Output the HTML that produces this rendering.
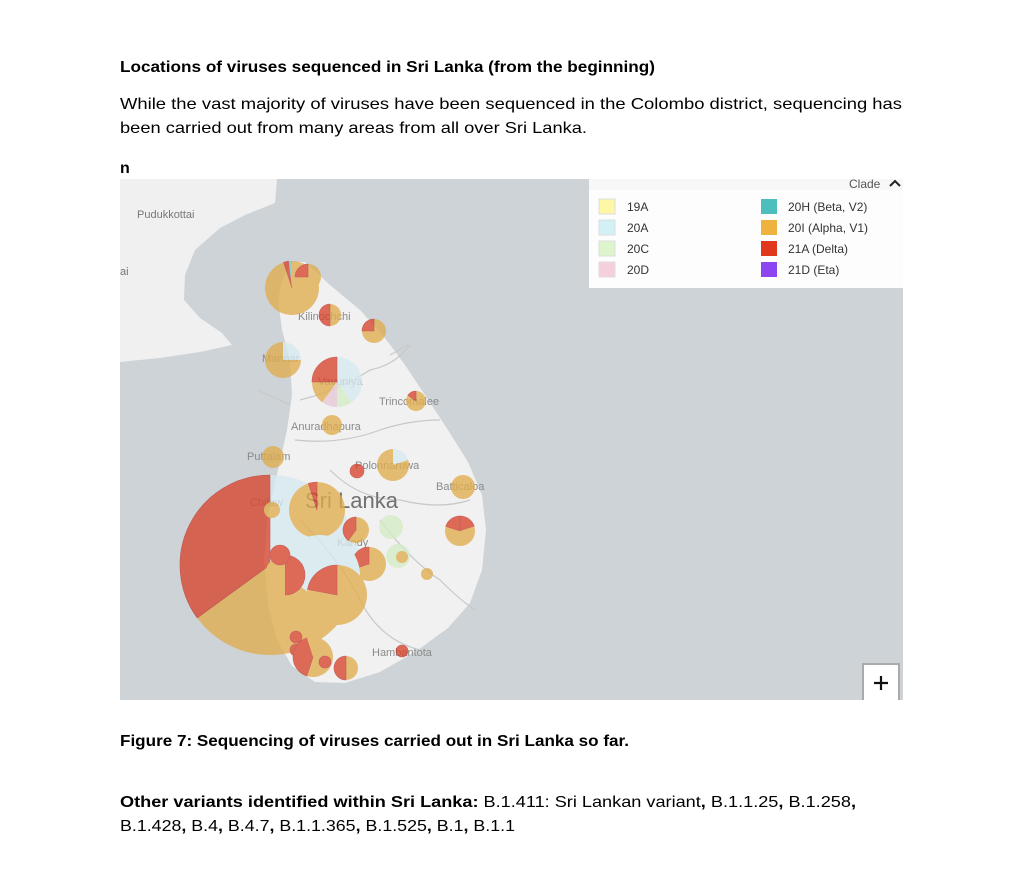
<!DOCTYPE html>
<html><head><meta charset="utf-8"><style>
html,body{margin:0;padding:0;background:#fff;}
svg{display:block;}
text{font-family:"Liberation Sans",sans-serif;}
</style></head><body>
<svg id="s" width="1024" height="882" viewBox="0 0 1024 882" xmlns="http://www.w3.org/2000/svg">
<rect width="1024" height="882" fill="#fff"/>
<text x="120" y="72" font-size="15.5" font-weight="bold" fill="#000" textLength="535" lengthAdjust="spacingAndGlyphs">Locations of viruses sequenced in Sri Lanka (from the beginning)</text>
<text x="120" y="109" font-size="16" fill="#000" textLength="782" lengthAdjust="spacingAndGlyphs">While the vast majority of viruses have been sequenced in the Colombo district, sequencing has</text>
<text x="120" y="133" font-size="16" fill="#000" textLength="467" lengthAdjust="spacingAndGlyphs">been carried out from many areas from all over Sri Lanka.</text>
<text x="120" y="173" font-size="16" font-weight="bold" fill="#000">n</text>
<clipPath id="mc"><rect x="120" y="179" width="783" height="521"/></clipPath>
<g clip-path="url(#mc)" id="map">
<rect x="120" y="179" width="783" height="521" fill="#cdd3d6"/>
<path d="M120 179 L277 179 L275 203 L245 215 L220 228 L195 250 L185 275 L184 300 L200 318 L222 333 L232 345 L200 352 L160 358 L120 362 Z" fill="#f0f0f0"/>
<path d="M292 262 L305 262 L330 285 L360 310 L385 338 L405 365 L425 395 L448 430 L468 462 L482 495 L486 530 L482 570 L470 603 L448 628 L415 652 L380 672 L345 683 L315 682 L292 666 L277 640 L268 605 L264 560 L268 515 L278 470 L287 430 L292 395 L290 360 L282 330 L278 300 L283 278 Z" fill="#f1f1f1"/>
<g stroke="#c8c8c8" stroke-width="1.2" fill="none">
<path d="M300 400 Q340 390 370 370 Q395 365 410 345"/>
<path d="M295 440 Q340 445 380 430 Q410 420 440 420"/>
<path d="M330 470 Q360 500 400 500 Q440 510 470 500"/>
<path d="M300 520 Q340 560 360 600 Q380 640 420 650"/>
<path d="M380 520 Q410 560 440 580 Q460 600 475 610"/>
<path d="M258 390 L290 405"/><path d="M390 355 L408 345"/>
</g>
<g font-size="11" fill="#8a8a8a">
<text x="137" y="218" fill="#777">Pudukkottai</text>
<text x="120" y="275" fill="#777">ai</text>
<text x="298" y="320">Kilinochchi</text>
<text x="262" y="362">Mannar</text>
<text x="318" y="385">Vavuniya</text>
<text x="379" y="405">Trincomalee</text>
<text x="291" y="430">Anuradhapura</text>
<text x="247" y="460">Puttalam</text>
<text x="355" y="469">Polonnaruwa</text>
<text x="436" y="490">Batticaloa</text>
<text x="250" y="506">Chilaw</text>
<text x="337" y="546">Kandy</text>
<text x="372" y="656">Hambantota</text>
</g>
<text x="305" y="508" font-size="22" fill="#707070">Sri Lanka</text>
<g id="pies" opacity="0.78"></g>
<rect x="589" y="190" width="314" height="98" fill="#fff" opacity="0.95"/>
<rect x="589" y="179" width="314" height="11" fill="#f7f7f7"/>
<text x="849" y="188" font-size="12" fill="#555">Clade</text>
<path d="M890 186 L895 181 L900 186" stroke="#222" stroke-width="2" fill="none"/>
<g font-size="12" fill="#333">
<rect x="599" y="199" width="16" height="15" fill="#fdf7a6" stroke="#ddd"/><text x="627" y="211">19A</text>
<rect x="599" y="220" width="16" height="15" fill="#d3f0f7" stroke="#ddd"/><text x="627" y="232">20A</text>
<rect x="599" y="241" width="16" height="15" fill="#dcf5cc" stroke="#ddd"/><text x="627" y="253">20C</text>
<rect x="599" y="262" width="16" height="15" fill="#f6cfdc" stroke="#ddd"/><text x="627" y="274">20D</text>
<rect x="761" y="199" width="16" height="15" fill="#4cbfbd"/><text x="788" y="211">20H (Beta, V2)</text>
<rect x="761" y="220" width="16" height="15" fill="#eeb23e"/><text x="788" y="232">20I (Alpha, V1)</text>
<rect x="761" y="241" width="16" height="15" fill="#e0381c"/><text x="788" y="253">21A (Delta)</text>
<rect x="761" y="262" width="16" height="15" fill="#8c45f0"/><text x="788" y="274">21D (Eta)</text>
</g>
<rect x="863" y="664" width="36" height="38" fill="#fff" stroke="#aaa" stroke-width="2"/>
<path d="M874 683 H888 M881 676 V690" stroke="#111" stroke-width="2.2"/>
</g>
<text x="120" y="746" font-size="15.5" font-weight="bold" fill="#000" textLength="509" lengthAdjust="spacingAndGlyphs">Figure 7: Sequencing of viruses carried out in Sri Lanka so far.</text>
<text x="120" y="807" font-size="16" fill="#000" textLength="736" lengthAdjust="spacingAndGlyphs"><tspan font-weight="bold">Other variants identified within Sri Lanka:</tspan> B.1.411: Sri Lankan variant<tspan font-weight="bold">,</tspan> B.1.1.25<tspan font-weight="bold">,</tspan> B.1.258<tspan font-weight="bold">,</tspan></text>
<text x="120" y="831" font-size="16" fill="#000" textLength="395" lengthAdjust="spacingAndGlyphs">B.1.428<tspan font-weight="bold">,</tspan> B.4<tspan font-weight="bold">,</tspan> B.4.7<tspan font-weight="bold">,</tspan> B.1.1.365<tspan font-weight="bold">,</tspan> B.1.525<tspan font-weight="bold">,</tspan> B.1<tspan font-weight="bold">,</tspan> B.1.1</text>
</svg>
<script>
var C={o:"#e0ad4e",r:"#d8442c",b:"#d6eaf0",g:"#d6ecc6",p:"#e8c8d8",c:"#7cc8c4"};
var P=[
[270,565,90,[["b",.28],["o",.37],["r",.35]]],
[292,288,27,[["o",.95],["r",.03],["c",.02]]],
[308,277,13,[["o",.5],["o",.25],["r",.25]]],
[330,315,11,[["o",.5],["r",.5]]],
[374,331,12,[["o",.5],["o",.25],["r",.25]]],
[283,360,18,[["b",.25],["o",.75]]],
[337,382,25,[["b",.4],["g",.1],["p",.1],["o",.15],["r",.25]]],
[416,401,10,[["o",.85],["r",.15]]],
[332,425,10,[["o",1]]],
[273,457,11,[["o",1]]],
[393,465,16,[["b",.2],["o",.8]]],
[357,471,7,[["r",1]]],
[463,487,12,[["o",1]]],
[317,510,28,[["o",.95],["r",.05]]],
[272,510,8,[["o",1]]],
[391,527,12,[["g",1]]],
[356,530,13,[["o",.6],["r",.4]]],
[460,531,15,[["r",.2],["o",.6],["r",.2]]],
[398,556,12,[["g",1]]],
[369,564,17,[["o",.7],["r",.3]]],
[402,557,6,[["o",1]]],
[427,574,6,[["o",1]]],
[320,575,40,[["b",1]]],
[337,595,30,[["o",.78],["r",.22]]],
[288,612,28,[["o",1]]],
[285,575,20,[["r",.5],["o",.5]]],
[280,555,10,[["r",1]]],
[296,637,6,[["r",1]]],
[296,650,6,[["r",1]]],
[313,657,20,[["o",.55],["r",.4],["o",.05]]],
[325,662,6,[["r",1]]],
[346,668,12,[["o",.5],["r",.5]]],
[402,651,6,[["r",1]]]
];
var g=document.getElementById("pies"),ns="http://www.w3.org/2000/svg";
P.forEach(function(p){var cx=p[0],cy=p[1],r=p[2],a=0;
p[3].forEach(function(s){var f=s[1];if(f<=0)return;var el;
if(f>=.999){el=document.createElementNS(ns,"circle");el.setAttribute("cx",cx);el.setAttribute("cy",cy);el.setAttribute("r",r);}
else{var a1=a*2*Math.PI,a2=(a+f)*2*Math.PI;
var x1=cx+r*Math.sin(a1),y1=cy-r*Math.cos(a1),x2=cx+r*Math.sin(a2),y2=cy-r*Math.cos(a2);
el=document.createElementNS(ns,"path");el.setAttribute("d","M"+cx+" "+cy+" L"+x1+" "+y1+" A"+r+" "+r+" 0 "+(f>.5?1:0)+" 1 "+x2+" "+y2+" Z");}
el.setAttribute("fill",C[s[0]]);el.setAttribute("stroke",s[0]=="r"?"#b33":"none");el.setAttribute("stroke-width","0.6");
g.appendChild(el);a+=f;});});
</script>
</body></html>
